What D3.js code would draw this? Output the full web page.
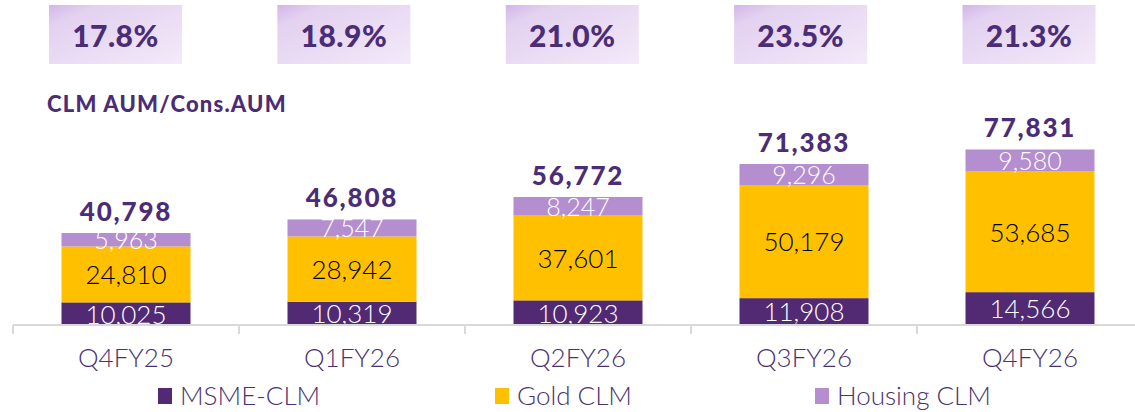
<!DOCTYPE html>
<html>
<head>
<meta charset="utf-8">
<script src="https://cdn.jsdelivr.net/npm/d3@7"></script>
<style>
  html, body { margin: 0; padding: 0; background: #fff; }
  text { font-family: Lato, "Open Sans", sans-serif; }
</style>
</head>
<body>
<div id="root"></div>
<script>
const categories = ["Q4FY25", "Q1FY26", "Q2FY26", "Q3FY26", "Q4FY26"]
const msme = [10025, 10319, 10923, 11908, 14566]
const gold = [24810, 28942, 37601, 50179, 53685]
const housing = [5963, 7547, 8247, 9296, 9580]
const totals = [40798, 46808, 56772, 71383, 77831]
const ratios = ["17.8%", "18.9%", "21.0%", "23.5%", "21.3%"]

const seriesNames = ["MSME-CLM", "Gold CLM", "Housing CLM"]
const colors = ["#512A73", "#FFC000", "#B48ECE"]
const labelColors = ["#ffffff", "#000000", "#ffffff"]
const labelSizes = ["26px", "26px", "25px"]
const PURPLE = "#4B2C76"

const width = 1135
const height = 412

const rows = categories.map((c, i) => ({
  cat: c, "MSME-CLM": msme[i], "Gold CLM": gold[i], "Housing CLM": housing[i],
  total: totals[i], ratio: ratios[i]
}))

const svg = d3.select("#root").append("svg")
  .attr("width", width)
  .attr("height", height)

// gradient for ratio boxes
const grad = svg.append("defs").append("linearGradient")
  .attr("id", "boxGrad")
  .attr("x1", 0).attr("y1", 0).attr("x2", 1).attr("y2", 1)
grad.append("stop").attr("offset", 0).attr("stop-color", "#D2B5E9")
grad.append("stop").attr("offset", 0.18).attr("stop-color", "#E3D1F0")
grad.append("stop").attr("offset", 1).attr("stop-color", "#F3EAF9")

const xScale = d3.scaleBand()
  .domain(categories)
  .range([13, 1143])
  .paddingInner(0)
  .paddingOuter(0)

const barW = 129

const yScale = d3.scaleLinear()
  .domain([0, 100000])
  .range([325, 99.5])

const stack = d3.stack().keys(seriesNames)
const stacked = stack(rows)

// bars
const layers = svg.append("g").selectAll("g")
  .data(stacked)
  .join("g")
  .attr("fill", (d, i) => colors[i])

layers.selectAll("rect")
  .data(d => d)
  .join("rect")
  .attr("x", d => xScale(d.data.cat) + (xScale.bandwidth() - barW) / 2)
  .attr("y", d => yScale(d[1]))
  .attr("width", barW)
  .attr("height", d => yScale(d[0]) - yScale(d[1]))

// segment labels
stacked.forEach((layer, li) => {
  svg.append("g").selectAll("text")
    .data(layer)
    .join("text")
    .attr("x", d => xScale(d.data.cat) + xScale.bandwidth() / 2)
    .attr("y", d => (yScale(d[0]) + yScale(d[1])) / 2)
    .attr("dy", "0.38em")
    .attr("text-anchor", "middle")
    .attr("fill", labelColors[li])
    .style("font-size", labelSizes[li])
    .style("font-weight", 300)
    .text(d => d3.format(",")(d[1] - d[0]))
})

// totals
svg.append("g").selectAll("text")
  .data(rows)
  .join("text")
  .attr("x", d => xScale(d.cat) + xScale.bandwidth() / 2)
  .attr("y", d => yScale(d.total) - 12)
  .attr("text-anchor", "middle")
  .attr("fill", PURPLE)
  .style("font-size", "26px")
  .style("font-weight", 900)
  .style("letter-spacing", "1.8px")
  .text(d => d3.format(",")(d.total))

// x axis
const axis = svg.append("g")
axis.append("line")
  .attr("x1", 13).attr("x2", width)
  .attr("y1", yScale(0)).attr("y2", yScale(0))
  .attr("stroke", "#D9D9D9").attr("stroke-width", 2)
axis.selectAll(".tick")
  .data(categories.concat([null]))
  .join("line")
  .attr("x1", (d, i) => 13 + i * xScale.bandwidth())
  .attr("x2", (d, i) => 13 + i * xScale.bandwidth())
  .attr("y1", yScale(0)).attr("y2", yScale(0) + 9)
  .attr("stroke", "#D9D9D9").attr("stroke-width", 2)
axis.selectAll("text")
  .data(categories)
  .join("text")
  .attr("x", d => xScale(d) + xScale.bandwidth() / 2)
  .attr("y", 367)
  .attr("text-anchor", "middle")
  .attr("fill", "#4A3270")
  .style("font-size", "26px")
  .style("font-weight", 300)
  .text(d => d)

// ratio boxes
const boxX = d3.scalePoint().domain(categories).range([115.5, 1029])
const boxes = svg.append("g").selectAll("g")
  .data(rows)
  .join("g")
  .attr("transform", d => `translate(${boxX(d.cat)},0)`)
boxes.append("rect")
  .attr("x", -66.5).attr("y", 5)
  .attr("width", 133).attr("height", 59)
  .attr("fill", "url(#boxGrad)")
boxes.append("text")
  .attr("x", 0).attr("y", 47)
  .attr("text-anchor", "middle")
  .attr("fill", PURPLE)
  .style("font-size", "30px")
  .style("font-weight", 900)
  .style("letter-spacing", "0.5px")
  .text(d => d.ratio)

svg.append("text")
  .attr("x", 47).attr("y", 112)
  .attr("fill", PURPLE)
  .style("font-size", "22px")
  .style("font-weight", 900)
  .style("letter-spacing", "1.2px")
  .text("CLM AUM/Cons.AUM")

// legend
const legendX = [158, 495, 815]
const legend = svg.append("g").selectAll("g")
  .data(seriesNames)
  .join("g")
  .attr("transform", (d, i) => `translate(${legendX[i]},388)`)
legend.append("rect")
  .attr("width", 14).attr("height", 16)
  .attr("fill", (d, i) => colors[i])
legend.append("text")
  .attr("x", 22).attr("y", 17)
  .attr("fill", "#4A3270")
  .style("font-size", "26px")
  .style("font-weight", 300)
  .text(d => d)
</script>
</body>
</html>
